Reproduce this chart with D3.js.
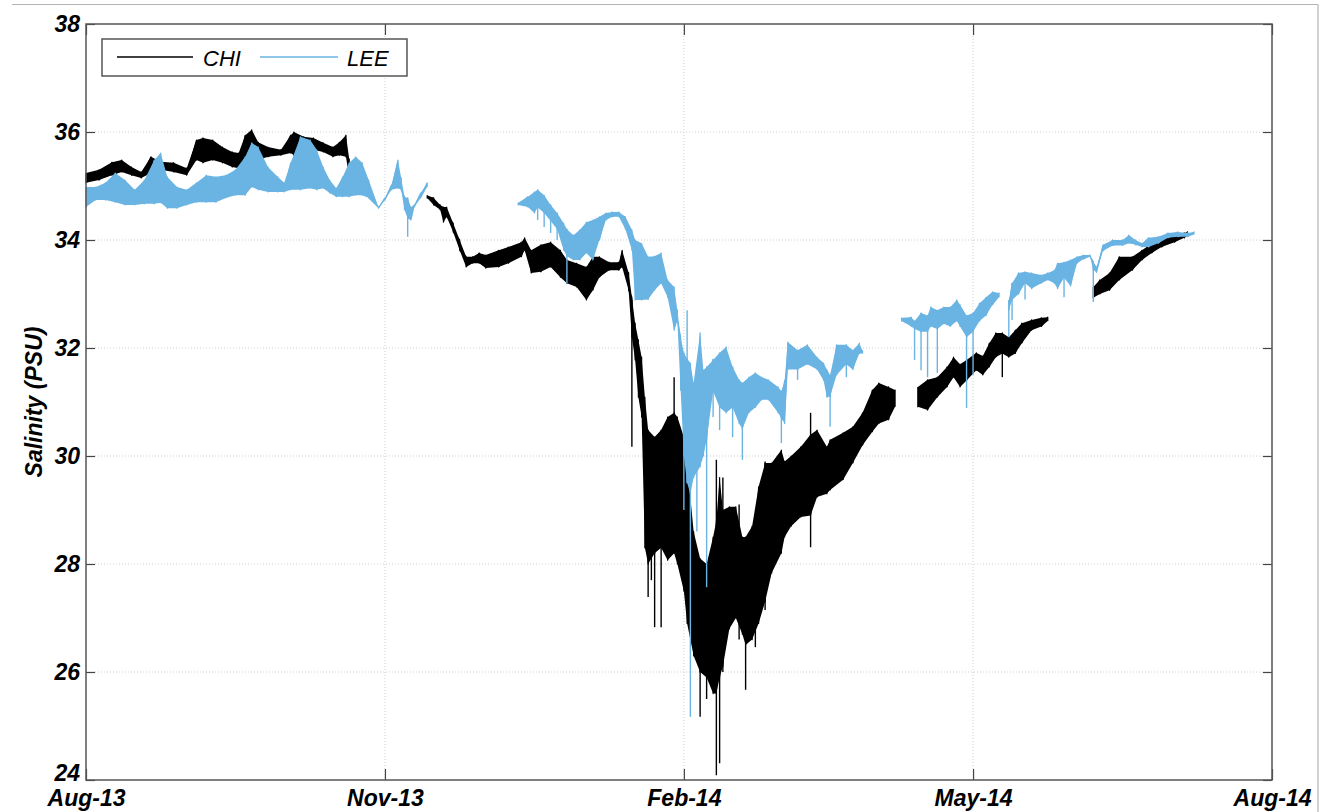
<!DOCTYPE html>
<html>
<head>
<meta charset="utf-8">
<script src="https://cdn.jsdelivr.net/npm/d3@7/dist/d3.min.js"></script>
<style>
  html, body { margin: 0; padding: 0; background: #fff; }
  svg { display: block; }
  .tick text { font-family: "Liberation Sans", Arial, sans-serif; font-weight: bold; font-style: italic; font-size: 23px; fill: #000; }
</style>
</head>
<body>
<svg id="chart" width="1323" height="812"></svg>
<script>
// Salinity records at two stations: high / low envelope of the tidal signal,
// plus isolated needle readings. A null entry marks a gap in the record.

const chiDate = [
  "2013-08-01","2013-08-05","2013-08-09","2013-08-12","2013-08-15","2013-08-18","2013-08-21","2013-08-24",
  "2013-08-28","2013-09-01","2013-09-04","2013-09-06","2013-09-09","2013-09-12","2013-09-15","2013-09-17",
  "2013-09-19","2013-09-21","2013-09-23","2013-09-26","2013-09-30","2013-10-03","2013-10-04","2013-10-07",
  "2013-10-10","2013-10-13","2013-10-16","2013-10-18","2013-10-20","2013-10-21",
  "2013-11-01",
  "2013-11-14","2013-11-16","2013-11-18","2013-11-19","2013-11-20","2013-11-22","2013-11-24","2013-11-26",
  "2013-11-28","2013-11-30","2013-12-02","2013-12-06","2013-12-09","2013-12-13","2013-12-14","2013-12-16",
  "2013-12-19","2013-12-22","2013-12-25","2013-12-27","2013-12-30","2014-01-02","2014-01-04","2014-01-06",
  "2014-01-09","2014-01-12","2014-01-13","2014-01-15","2014-01-16","2014-01-17","2014-01-18","2014-01-19",
  "2014-01-20","2014-01-21","2014-01-23","2014-01-25","2014-01-27","2014-01-29","2014-01-30","2014-02-01",
  "2014-02-02","2014-02-04","2014-02-06","2014-02-08","2014-02-10","2014-02-11","2014-02-12","2014-02-13",
  "2014-02-15","2014-02-17","2014-02-19","2014-02-20","2014-02-22","2014-02-24","2014-02-26","2014-02-28",
  "2014-03-03","2014-03-04","2014-03-06","2014-03-09","2014-03-12","2014-03-14","2014-03-17","2014-03-18",
  "2014-03-22","2014-03-25","2014-03-28","2014-03-31","2014-04-02","2014-04-05","2014-04-07",
  "2014-04-10",
  "2014-04-14","2014-04-17","2014-04-20","2014-04-23","2014-04-25","2014-04-27","2014-04-29","2014-05-02",
  "2014-05-04","2014-05-06","2014-05-08","2014-05-10","2014-05-12","2014-05-14","2014-05-16","2014-05-19",
  "2014-05-22","2014-05-24",
  "2014-06-01",
  "2014-06-07","2014-06-09","2014-06-12","2014-06-15","2014-06-19","2014-06-22","2014-06-25","2014-06-28",
  "2014-07-02","2014-07-05","2014-07-06"
];
const chiHigh = [
  35.24,35.30,35.44,35.48,35.35,35.26,35.54,35.45,
  35.43,35.33,35.85,35.89,35.85,35.72,35.63,35.61,
  35.94,36.04,35.81,35.72,35.67,35.94,36.00,35.91,
  35.89,35.80,35.72,35.81,35.94,35.50,
  null,
  34.83,34.78,34.65,34.61,34.61,34.31,34.00,33.69,
  33.69,33.76,33.72,33.81,33.87,33.96,34.04,33.81,
  33.91,33.96,33.81,33.63,33.57,33.50,33.69,33.69,
  33.59,33.59,33.81,33.39,32.94,32.46,32.15,31.83,
  31.09,30.48,30.35,30.48,30.72,30.80,30.72,30.35,
  29.87,28.60,28.10,28.00,28.50,28.80,29.60,29.00,
  29.06,29.06,28.50,28.50,28.70,29.43,29.87,29.87,
  30.11,29.90,30.00,30.17,30.40,30.48,30.17,30.30,
  30.43,30.54,30.80,31.22,31.35,31.28,31.22,
  null,
  31.28,31.41,31.46,31.65,31.83,31.70,31.78,31.91,
  31.85,32.09,32.28,32.28,32.20,32.33,32.46,32.52,
  32.56,32.57,
  null,
  33.13,33.26,33.39,33.69,33.69,33.81,33.94,34.00,
  34.09,34.13,34.15
];
const chiLow = [
  35.06,35.11,35.20,35.26,35.20,35.15,35.24,35.30,
  35.26,35.20,35.48,35.43,35.48,35.43,35.35,35.33,
  35.54,35.54,35.48,35.54,35.57,35.61,35.57,35.57,
  35.67,35.63,35.54,35.57,35.54,35.17,
  null,
  34.78,34.65,34.56,34.33,34.43,34.15,33.81,33.50,
  33.57,33.57,33.48,33.50,33.57,33.69,33.81,33.39,
  33.41,33.50,33.31,33.20,33.13,32.89,33.07,33.31,
  33.44,33.44,33.50,33.07,32.20,31.78,31.09,30.72,
  28.30,28.00,28.20,28.30,28.07,28.20,28.00,27.50,
  26.90,26.30,26.00,25.90,25.60,25.60,25.90,26.10,
  26.80,27.00,26.70,26.50,26.60,26.90,27.30,27.83,
  28.20,28.50,28.70,28.87,28.90,29.24,29.30,29.37,
  29.56,29.87,30.20,30.45,30.60,30.67,30.91,
  null,
  30.91,30.85,31.09,31.28,31.46,31.28,31.40,31.59,
  31.50,31.65,31.83,31.90,31.83,31.90,32.09,32.33,
  32.40,32.50,
  null,
  32.93,33.00,33.07,33.26,33.44,33.63,33.76,33.87,
  33.96,34.04,34.08
];
// isolated needles in the CHI record
const chiSpikeDate = ["2014-01-16","2014-01-21","2014-01-22","2014-01-23","2014-01-25","2014-01-29",
                      "2014-02-06","2014-02-08","2014-02-11","2014-02-12","2014-02-13","2014-02-18",
                      "2014-02-20","2014-02-23","2014-02-26","2014-03-12","2014-05-10"];
const chiSpikeTop = [32.90, 30.40, 30.30, 30.30, 30.40, 31.46,
                     28.00, 28.00, 29.93, 29.00, 29.60, 29.10,
                     28.40, 28.70, 29.90, 30.80, 32.20];
const chiSpikeBottom = [30.17, 27.39, 27.70, 26.83, 26.83, 29.00,
                        25.17, 25.50, 24.09, 24.31, 26.00, 26.60,
                        25.67, 26.46, 27.15, 28.31, 31.46];

const leeDate = [
  "2013-08-01","2013-08-04","2013-08-07","2013-08-10","2013-08-13","2013-08-16","2013-08-19","2013-08-22",
  "2013-08-24","2013-08-26","2013-08-29","2013-09-01","2013-09-04","2013-09-07","2013-09-10","2013-09-13",
  "2013-09-16","2013-09-19","2013-09-21","2013-09-23","2013-09-26","2013-09-29","2013-10-01","2013-10-03",
  "2013-10-06","2013-10-09","2013-10-11","2013-10-13","2013-10-15","2013-10-17","2013-10-19","2013-10-21",
  "2013-10-23","2013-10-25","2013-10-27","2013-10-30","2013-11-01","2013-11-03","2013-11-05","2013-11-06",
  "2013-11-07","2013-11-08","2013-11-09","2013-11-10","2013-11-12","2013-11-14",
  "2013-12-01",
  "2013-12-12","2013-12-15","2013-12-17","2013-12-18","2013-12-20","2013-12-22","2013-12-24","2013-12-26",
  "2013-12-27","2013-12-29","2013-12-31","2014-01-02","2014-01-04","2014-01-06","2014-01-08","2014-01-10",
  "2014-01-12","2014-01-14","2014-01-16","2014-01-17","2014-01-19","2014-01-21","2014-01-23","2014-01-25",
  "2014-01-27","2014-01-29","2014-01-30","2014-01-31","2014-02-01","2014-02-02","2014-02-03","2014-02-04",
  "2014-02-06","2014-02-07","2014-02-08","2014-02-10","2014-02-12","2014-02-14","2014-02-16","2014-02-18",
  "2014-02-19","2014-02-21","2014-02-23","2014-02-25","2014-02-27","2014-03-02","2014-03-03","2014-03-04",
  "2014-03-05","2014-03-08","2014-03-11","2014-03-14","2014-03-16","2014-03-17","2014-03-18","2014-03-20",
  "2014-03-23","2014-03-25","2014-03-27","2014-03-28",
  "2014-04-03",
  "2014-04-09","2014-04-12","2014-04-13","2014-04-15","2014-04-17","2014-04-18","2014-04-20","2014-04-22",
  "2014-04-24","2014-04-26","2014-04-27","2014-04-29","2014-05-01","2014-05-03","2014-05-05","2014-05-07",
  "2014-05-09",
  "2014-05-10",
  "2014-05-12","2014-05-13","2014-05-15","2014-05-17","2014-05-19","2014-05-22","2014-05-24","2014-05-26",
  "2014-05-27","2014-05-29","2014-05-31","2014-06-02","2014-06-04","2014-06-06","2014-06-07","2014-06-08",
  "2014-06-10","2014-06-13","2014-06-16","2014-06-18","2014-06-20","2014-06-22","2014-06-24","2014-06-27",
  "2014-06-30","2014-07-03","2014-07-06","2014-07-08"
];
const leeHigh = [
  34.98,34.98,35.06,35.24,35.11,34.93,35.11,35.48,
  35.61,35.17,34.98,34.93,35.06,35.20,35.17,35.20,
  35.30,35.54,35.80,35.72,35.35,35.17,35.06,35.43,
  35.91,35.85,35.67,35.35,35.11,34.96,35.17,35.43,
  35.54,35.43,35.11,34.61,34.78,35.02,35.48,35.15,
  34.80,34.78,34.61,34.65,34.87,35.06,
  null,
  34.69,34.80,34.89,34.93,34.83,34.65,34.50,34.31,
  34.20,34.09,34.19,34.33,34.37,34.43,34.50,34.52,
  34.52,34.43,34.19,34.00,33.94,33.69,33.70,33.76,
  33.26,33.13,32.70,32.20,31.91,31.80,31.72,31.35,
  32.28,31.59,31.65,31.78,31.91,32.02,31.65,31.41,
  31.35,31.46,31.54,31.46,31.41,31.28,31.20,31.40,
  32.11,31.96,32.06,31.83,31.72,31.60,31.50,32.06,
  32.06,31.96,32.09,31.95,
  null,
  32.56,32.57,32.50,32.65,32.60,32.76,32.70,32.76,
  32.76,32.89,32.80,32.60,32.65,32.83,32.94,33.04,
  33.02,
  null,
  32.89,33.20,33.39,33.41,33.39,33.35,33.39,33.44,
  33.57,33.59,33.63,33.69,33.72,33.72,33.60,33.50,
  33.91,34.00,34.00,34.09,34.00,33.94,34.04,34.06,
  34.13,34.15,34.13,34.15
];
const leeLow = [
  34.61,34.74,34.74,34.70,34.65,34.65,34.67,34.67,
  34.69,34.59,34.59,34.65,34.70,34.70,34.70,34.78,
  34.83,34.83,34.98,34.93,34.89,34.89,34.89,34.93,
  34.93,34.96,34.93,34.96,34.87,34.80,34.80,34.80,
  34.83,34.83,34.78,34.59,34.74,34.93,34.96,34.93,
  34.56,34.40,34.37,34.61,34.78,34.98,
  null,
  34.65,34.61,34.50,34.60,34.50,34.35,34.20,33.81,
  33.70,33.63,33.63,33.76,33.63,34.00,34.37,34.43,
  34.43,34.20,33.81,32.89,32.89,32.90,33.07,33.20,
  32.94,32.33,32.50,31.22,30.00,29.50,29.30,29.60,
  29.80,30.00,30.30,31.20,30.90,30.80,30.90,30.60,
  30.50,30.80,30.90,31.04,31.04,30.80,30.70,30.60,
  31.60,31.60,31.70,31.60,31.40,31.09,31.10,31.50,
  31.70,31.60,31.90,31.90,
  null,
  32.50,32.40,32.35,32.30,32.30,32.40,32.35,32.45,
  32.40,32.50,32.40,32.20,32.30,32.50,32.60,32.80,
  32.94,
  null,
  32.70,32.89,33.00,33.20,33.10,33.20,33.26,33.20,
  33.10,33.30,33.15,33.57,33.65,33.69,33.45,33.40,
  33.80,33.90,33.90,33.94,33.91,33.87,33.87,33.94,
  34.04,34.06,34.06,34.10
];
// isolated needles in the LEE record
const leeSpikeDate = ["2013-11-08","2013-12-18","2013-12-20","2013-12-22","2013-12-24","2013-12-27",
                      "2014-02-01","2014-02-02","2014-02-03","2014-02-05","2014-02-08","2014-02-10",
                      "2014-02-12","2014-02-16","2014-02-19","2014-03-03","2014-03-08","2014-03-18",
                      "2014-03-23","2014-04-13","2014-04-15","2014-04-17","2014-04-20","2014-04-29",
                      "2014-05-01","2014-05-12","2014-05-13","2014-05-17","2014-05-29","2014-06-07"];
const leeSpikeTop = [34.78, 34.93, 34.80, 34.65, 34.50, 34.20,
                     31.90, 32.70, 31.70, 31.50, 31.60, 31.80,
                     31.90, 31.65, 31.30, 31.20, 31.96, 31.50,
                     32.06, 32.50, 32.60, 32.60, 32.70, 32.60,
                     32.60, 32.89, 33.20, 33.40, 33.50, 33.60];
const leeSpikeBottom = [34.06, 34.37, 34.24, 34.13, 34.00, 33.20,
                        29.00, 29.50, 25.17, 28.60, 27.57, 30.72,
                        30.48, 30.35, 29.93, 30.24, 31.41, 30.54,
                        31.46, 31.78, 31.59, 31.46, 31.54, 30.89,
                        31.50, 32.20, 32.52, 32.90, 32.94, 32.85];

const yTicks = [24, 26, 28, 30, 32, 34, 36, 38];
const xTickDates = ["2013-08-01", "2013-11-01", "2014-02-01", "2014-05-01", "2014-08-01"];
const seriesNames = ["CHI", "LEE"];
const seriesColors = ["#000000", "#6ab4e3"];

const parse = d3.timeParse("%Y-%m-%d");
const svg = d3.select("#chart");

const plot = { left: 86, right: 1272, top: 24, bottom: 780 };

const x = d3.scaleTime()
  .domain([parse("2013-08-01"), parse("2014-08-01")])
  .range([plot.left, plot.right]);
const y = d3.scaleLinear().domain([24, 38]).range([plot.bottom, plot.top]);

// outer figure edges
svg.append("line").attr("x1", 12).attr("x2", 1318).attr("y1", 4.5).attr("y2", 4.5)
  .attr("stroke", "#b4b4b4").attr("stroke-width", 1.2);
svg.append("line").attr("x1", 1318).attr("x2", 1318).attr("y1", 4.5).attr("y2", 812)
  .attr("stroke", "#b4b4b4").attr("stroke-width", 1.2);

// grid
const grid = svg.append("g").attr("stroke", "#cfcfcf").attr("stroke-width", 1).attr("stroke-dasharray", "1 2");
grid.selectAll(".gy").data(yTicks.slice(1, -1)).join("line")
  .attr("x1", plot.left).attr("x2", plot.right)
  .attr("y1", d => y(d)).attr("y2", d => y(d));
grid.selectAll(".gx").data(xTickDates.slice(1, -1).map(parse)).join("line")
  .attr("y1", plot.top).attr("y2", plot.bottom)
  .attr("x1", d => x(d)).attr("x2", d => x(d));

function rows(dates, hi, lo) {
  return dates.map((d, i) => ({ t: parse(d), hi: hi[i], lo: lo[i] }));
}
const bands = [rows(chiDate, chiHigh, chiLow), rows(leeDate, leeHigh, leeLow)];
const spikes = [rows(chiSpikeDate, chiSpikeTop, chiSpikeBottom), rows(leeSpikeDate, leeSpikeTop, leeSpikeBottom)];

const area = d3.area()
  .defined(d => d.hi != null)
  .x(d => x(d.t)).y0(d => y(d.lo)).y1(d => y(d.hi));

// zig-zag trace through the high and low readings
function zigzag(r) {
  const pts = [];
  r.forEach(d => {
    if (d.hi == null) { pts.push(null); return; }
    pts.push([x(d.t), y(d.hi)], [x(d.t), y(d.lo)]);
  });
  return pts;
}
const line = d3.line().defined(p => p != null);

const plotG = svg.append("g");
[0, 1].forEach(s => {
  const g = plotG.append("g");
  g.append("path").datum(bands[s]).attr("d", area)
    .attr("fill", seriesColors[s]);
  g.append("path").datum(zigzag(bands[s])).attr("d", line)
    .attr("fill", "none").attr("stroke", seriesColors[s]).attr("stroke-width", 1.2)
    .attr("stroke-linejoin", "round");
  g.selectAll("line.spike").data(spikes[s]).join("line")
    .attr("class", "spike")
    .attr("x1", d => x(d.t)).attr("x2", d => x(d.t))
    .attr("y1", d => y(d.hi)).attr("y2", d => y(d.lo))
    .attr("stroke", seriesColors[s]).attr("stroke-width", 1.4);
});

// axes with inward ticks
const fmt = d3.timeFormat("%b-%y");
svg.append("g").attr("transform", `translate(0,${plot.bottom})`)
  .call(d3.axisBottom(x).tickValues(xTickDates.map(parse)).tickFormat(fmt).tickSize(-11).tickPadding(10))
  .call(g => g.select(".domain").remove());
svg.append("g").attr("transform", `translate(0,${plot.top})`)
  .call(d3.axisTop(x).tickValues(xTickDates.map(parse)).tickFormat("").tickSize(-11))
  .call(g => g.select(".domain").remove());
svg.append("g").attr("transform", `translate(${plot.left},0)`)
  .call(d3.axisLeft(y).tickValues(yTicks).tickFormat(d3.format("d")).tickSize(-9).tickPadding(6))
  .call(g => g.select(".domain").remove())
  .call(g => g.selectAll(".tick").filter(d => d === 24).select("text").attr("dy", "0em"));
svg.append("g").attr("transform", `translate(${plot.right},0)`)
  .call(d3.axisRight(y).tickValues(yTicks).tickFormat("").tickSize(-9))
  .call(g => g.select(".domain").remove());
svg.selectAll(".tick line").attr("stroke", "#444").attr("stroke-width", 1.2);

svg.append("rect")
  .attr("x", plot.left).attr("y", plot.top)
  .attr("width", plot.right - plot.left).attr("height", plot.bottom - plot.top)
  .attr("fill", "none").attr("stroke", "#555").attr("stroke-width", 1.5);

// y-axis title
svg.append("text")
  .attr("transform", `translate(42,${(plot.top + plot.bottom) / 2}) rotate(-90)`)
  .attr("text-anchor", "middle")
  .style("font-family", "'Liberation Sans', Arial, sans-serif")
  .style("font-weight", "bold").style("font-style", "italic").style("font-size", "23px")
  .text("Salinity (PSU)");

// legend
const lg = svg.append("g");
lg.append("rect").attr("x", 102).attr("y", 39).attr("width", 305).attr("height", 37)
  .attr("fill", "#fff").attr("stroke", "#555").attr("stroke-width", 1.5);
const legendItems = [
  { x1: 117, x2: 193, tx: 203 },
  { x1: 260, x2: 338, tx: 347 }
];
legendItems.forEach((it, i) => {
  lg.append("line").attr("x1", it.x1).attr("x2", it.x2).attr("y1", 57).attr("y2", 57)
    .attr("stroke", seriesColors[i]).attr("stroke-width", 1.3);
  lg.append("text").attr("x", it.tx).attr("y", 66)
    .style("font-family", "'Liberation Sans', Arial, sans-serif")
    .style("font-style", "italic").style("font-size", "22px")
    .text(seriesNames[i]);
});
</script>
</body>
</html>
